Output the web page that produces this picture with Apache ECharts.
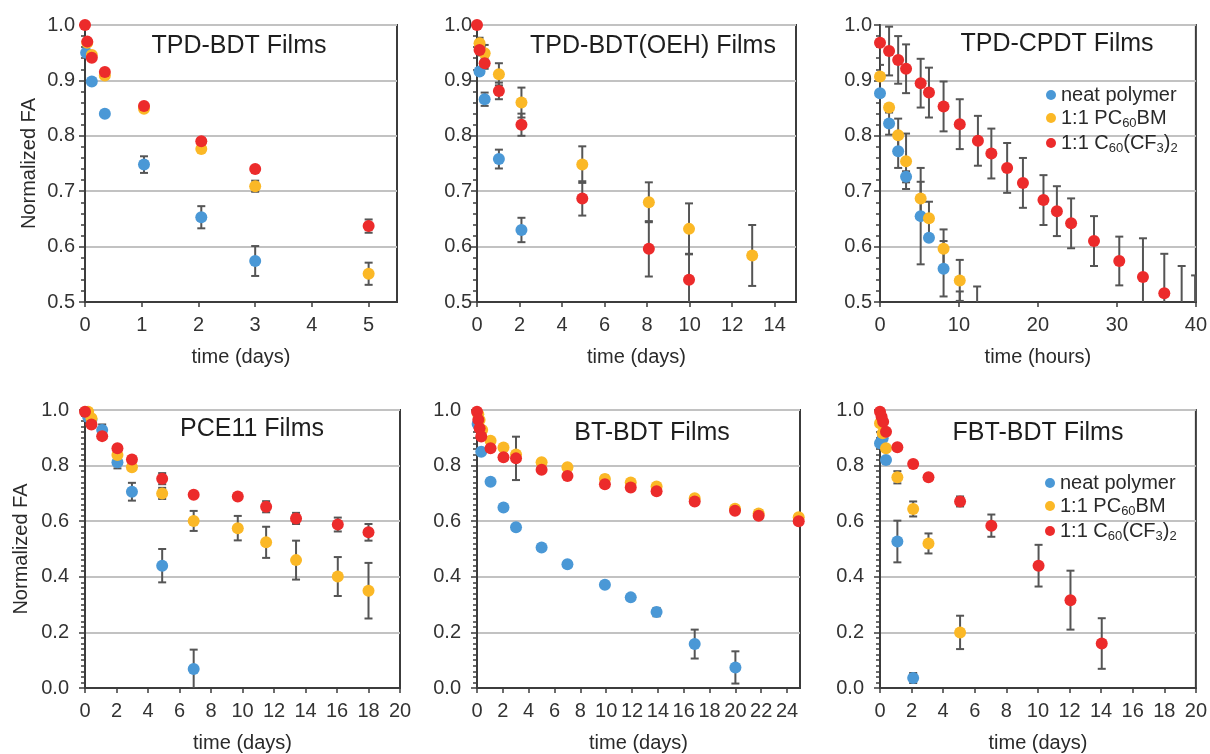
<!DOCTYPE html>
<html>
<head>
<meta charset="utf-8">
<script src="https://cdn.jsdelivr.net/npm/echarts@6/dist/echarts.min.js"></script>
<style>
html,body{margin:0;padding:0;background:#fff;}
#c{width:1210px;height:754px;}
</style>
</head>
<body>
<div id="c"></div>
<script>
// ---- data: [time, normalized FA, error] ----
var seriesNames = ['neat polymer', '1:1 PC60BM', '1:1 C60(CF3)2'];
var panelTitles = ['TPD-BDT Films', 'TPD-BDT(OEH) Films', 'TPD-CPDT Films', 'PCE11 Films', 'BT-BDT Films', 'FBT-BDT Films'];
var xAxisNames = ['time (days)', 'time (days)', 'time (hours)', 'time (days)', 'time (days)', 'time (days)'];
var yAxisName = 'Normalized FA';

var p1Neat = [[0.02,0.95,0],[0.12,0.898,0],[0.35,0.84,0],[1.04,0.748,0.015],[2.05,0.653,0.02],[3,0.574,0.027]];
var p1Pcbm = [[0.04,0.968,0],[0.12,0.946,0.005],[0.35,0.909,0],[1.04,0.849,0.005],[2.05,0.776,0.005],[3,0.709,0.01],[5,0.551,0.02]];
var p1Cf3  = [[0,1.0,0],[0.04,0.97,0],[0.12,0.941,0.005],[0.35,0.915,0.004],[1.04,0.854,0.005],[2.05,0.79,0.005],[3,0.74,0.004],[5,0.637,0.012]];

var p2Neat = [[0.12,0.916,0.005],[0.36,0.866,0.012],[1.03,0.758,0.017],[2.09,0.63,0.022]];
var p2Pcbm = [[0.12,0.967,0.01],[0.36,0.949,0.015],[1.03,0.911,0.02],[2.09,0.86,0.027],[4.95,0.748,0.033],[8.08,0.68,0.036],[9.97,0.632,0.046],[12.94,0.584,0.055]];
var p2Cf3  = [[0,1.0,0],[0.12,0.955,0.01],[0.36,0.931,0.01],[1.03,0.881,0.015],[2.09,0.82,0.02],[4.95,0.687,0.031],[8.08,0.596,0.05],[9.97,0.54,0.047]];

var p3Neat = [[0,0.877,0],[1.15,0.822,0.02],[2.3,0.772,0.03],[3.3,0.726,0.01],[5.15,0.655,0.087],[6.2,0.616,0.005],[8.05,0.56,0.05],[10.1,0.475,0.044]];
var p3Pcbm = [[0,0.907,0],[1.15,0.851,0.005],[2.3,0.801,0.03],[3.3,0.754,0.05],[5.15,0.687,0.03],[6.2,0.651,0.03],[8.05,0.596,0.035],[10.1,0.539,0.037],[12.3,0.49,0.038]];
var p3Cf3  = [[0,0.968,0.04],[1.15,0.953,0.044],[2.3,0.937,0.043],[3.3,0.921,0.044],[5.15,0.895,0.044],[6.2,0.878,0.045],[8.05,0.853,0.045],[10.1,0.821,0.045],[12.4,0.791,0.045],[14.1,0.768,0.045],[16.1,0.742,0.045],[18.1,0.715,0.045],[20.7,0.684,0.045],[22.4,0.664,0.045],[24.2,0.642,0.045],[27.1,0.61,0.045],[30.3,0.574,0.044],[33.3,0.545,0.07],[36,0.516,0.071],[38.2,0.49,0.075],[39.9,0.475,0.073]];

var p4Neat = [[0.2,0.975,0],[0.41,0.965,0],[1.09,0.928,0.02],[2.06,0.812,0.022],[2.98,0.706,0.032],[4.9,0.44,0.06],[6.9,0.068,0.07]];
var p4Pcbm = [[0.2,0.994,0],[0.41,0.97,0],[2.06,0.838,0.01],[2.98,0.794,0.01],[4.9,0.70,0.02],[6.9,0.601,0.036],[9.7,0.575,0.044],[11.5,0.524,0.056],[13.4,0.46,0.07],[16.05,0.401,0.07],[18,0.35,0.1]];
var p4Cf3  = [[0,0.994,0],[0.41,0.948,0.005],[1.09,0.906,0.005],[2.06,0.862,0.01],[2.98,0.822,0.01],[4.9,0.753,0.02],[6.9,0.695,0.01],[9.7,0.689,0.01],[11.5,0.652,0.02],[13.4,0.61,0.02],[16.05,0.588,0.025],[18,0.56,0.03]];

var p5Neat = [[0.05,0.95,0],[0.33,0.85,0],[1.05,0.742,0],[2.05,0.649,0],[3.02,0.578,0],[5,0.505,0],[7,0.445,0],[9.9,0.371,0],[11.9,0.326,0],[13.9,0.273,0.015],[16.85,0.158,0.052],[20,0.074,0.058]];
var p5Pcbm = [[0.1,0.985,0],[0.2,0.964,0],[0.4,0.928,0],[1.05,0.889,0],[2.05,0.865,0],[3.02,0.84,0],[5,0.812,0],[7,0.794,0],[9.9,0.752,0.012],[11.9,0.739,0.008],[13.9,0.725,0.008],[16.85,0.683,0.01],[19.97,0.645,0.01],[21.8,0.628,0.012],[24.9,0.614,0.01]];
var p5Cf3  = [[0,0.994,0],[0.1,0.965,0],[0.2,0.934,0],[0.33,0.905,0],[1.05,0.862,0],[2.05,0.83,0],[3.02,0.826,0.078],[5,0.785,0],[7,0.763,0],[9.9,0.733,0],[11.9,0.721,0],[13.9,0.708,0],[16.85,0.671,0.01],[19.97,0.638,0.012],[21.8,0.62,0.012],[24.9,0.6,0]];

var p6Neat = [[0,0.88,0],[0.17,0.898,0],[0.38,0.82,0],[1.1,0.527,0.075],[2.1,0.036,0.018]];
var p6Pcbm = [[0,0.952,0],[0.17,0.916,0],[0.38,0.862,0.012],[1.1,0.758,0.022],[2.1,0.644,0.027],[3.07,0.52,0.036],[5.07,0.2,0.06]];
var p6Cf3  = [[0,0.994,0],[0.1,0.976,0],[0.2,0.958,0],[0.38,0.922,0],[1.1,0.866,0],[2.1,0.806,0],[3.07,0.758,0],[5.07,0.671,0.018],[7.05,0.584,0.04],[10.04,0.44,0.075],[12.06,0.316,0.106],[14.04,0.16,0.091]];

var panelData = [
  [p1Neat, p1Pcbm, p1Cf3],
  [p2Neat, p2Pcbm, p2Cf3],
  [p3Neat, p3Pcbm, p3Cf3],
  [p4Neat, p4Pcbm, p4Cf3],
  [p5Neat, p5Pcbm, p5Cf3],
  [p6Neat, p6Pcbm, p6Cf3]
];
var xMaxes = [5.5, 15, 40, 20, 25, 20];
var xIntervals = [1, 2, 10, 2, 2, 2];
var xShowMaxLabel = [false, false, true, true, false, true];
var yMins = [0.5, 0.5, 0.5, 0, 0, 0];
var yIntervals = [0.1, 0.1, 0.1, 0.2, 0.2, 0.2];

// ---- layout & style ----
var FONT = 'Liberation Sans, Arial, sans-serif';
var colors = ['#4a98d6', '#fbb826', '#ec2b2b'];
var grids = [
  {left: 85, top: 25, width: 312, height: 277},
  {left: 477, top: 25, width: 319, height: 277},
  {left: 880, top: 25, width: 317, height: 277},
  {left: 85, top: 410, width: 315, height: 278},
  {left: 477, top: 410, width: 323, height: 278},
  {left: 880, top: 410, width: 317, height: 278}
];
var yLabelMargins = [10, 5, 8, 16, 16, 16];
var titlePos = [[239, 46], [653, 46], [1057, 44], [252, 429], [652, 433], [1038, 433]];

var option = {
  animation: false,
  backgroundColor: '#ffffff',
  grid: grids.map(function (g) {
    return Object.assign({show: true, borderColor: '#3c3c3c', borderWidth: 2, backgroundColor: 'transparent'}, g);
  }),
  xAxis: [],
  yAxis: [],
  series: [],
  legend: [],
  graphic: []
};

for (var p = 0; p < 6; p++) {
  option.xAxis.push({
    type: 'value', gridIndex: p, min: 0, max: xMaxes[p], interval: xIntervals[p],
    name: xAxisNames[p], nameLocation: 'middle', nameGap: 45,
    nameTextStyle: {fontFamily: FONT, fontSize: 20, color: '#2a2a2a'},
    axisLine: {show: true, onZero: false, lineStyle: {color: '#3c3c3c', width: 2}},
    axisTick: {show: true, inside: false, length: 5, lineStyle: {color: '#3c3c3c', width: 1.5}},
    axisLabel: {fontFamily: FONT, fontSize: 20, color: '#333', margin: 13, showMaxLabel: xShowMaxLabel[p],
      formatter: function (v) { return Math.abs(v - Math.round(v)) < 1e-9 ? String(Math.round(v)) : ''; }},
    splitLine: {show: false}
  });
  option.yAxis.push({
    type: 'value', gridIndex: p, min: yMins[p], max: 1.0, interval: yIntervals[p],
    name: (p === 0 || p === 3) ? yAxisName : '', nameLocation: 'middle', nameGap: (p === 0 ? 46 : 54),
    nameTextStyle: {fontFamily: FONT, fontSize: 20, color: '#2a2a2a'},
    axisLine: {show: true, onZero: false, lineStyle: {color: '#3c3c3c', width: 2}},
    axisTick: {show: true, inside: false, length: 6, lineStyle: {color: '#3c3c3c', width: 1.5}},
    minorTick: {show: true, splitNumber: p < 3 ? 5 : 10, length: 4, lineStyle: {color: '#3c3c3c', width: 1.5}},
    axisLabel: {fontFamily: FONT, fontSize: 20, color: '#333', margin: yLabelMargins[p],
      formatter: function (v) { return v.toFixed(1); }},
    splitLine: {show: true, lineStyle: {color: '#c2c2c2', width: 2}}
  });
  // error bars
  for (var s = 0; s < 3; s++) {
    option.series.push({
      type: 'custom', xAxisIndex: p, yAxisIndex: p, name: seriesNames[s] + ' err', clip: true, z: 2,
      silent: true, legendHoverLink: false,
      data: panelData[p][s].filter(function (d) { return d[2] > 0; }),
      encode: {x: 0, y: 1},
      renderItem: function (params, api) {
        var x = api.value(0), y = api.value(1), e = api.value(2);
        var top = api.coord([x, y + e]);
        var bot = api.coord([x, y - e]);
        var cw = 4;
        var st = {stroke: '#555555', lineWidth: 2};
        return {type: 'group', children: [
          {type: 'line', shape: {x1: top[0], y1: top[1], x2: bot[0], y2: bot[1]}, style: st},
          {type: 'line', shape: {x1: top[0] - cw, y1: top[1], x2: top[0] + cw, y2: top[1]}, style: st},
          {type: 'line', shape: {x1: bot[0] - cw, y1: bot[1], x2: bot[0] + cw, y2: bot[1]}, style: st}
        ]};
      }
    });
  }
  for (var s2 = 0; s2 < 3; s2++) {
    option.series.push({
      type: 'scatter', xAxisIndex: p, yAxisIndex: p, name: seriesNames[s2], clip: true, z: 3 + s2,
      symbol: 'circle', symbolSize: 12,
      itemStyle: {color: colors[s2], opacity: 1},
      data: panelData[p][s2].map(function (d) { return [d[0], d[1]]; })
    });
  }
  option.graphic.push({
    type: 'text', x: titlePos[p][0], y: titlePos[p][1], z: 100,
    style: {text: panelTitles[p], fontFamily: FONT, fontSize: 25, fill: '#1e1e1e', align: 'center', verticalAlign: 'middle'}
  });
}

var legendRich = {
  n: {fontFamily: FONT, fontSize: 20, lineHeight: 24, color: '#2a2a2a'},
  s: {fontFamily: FONT, fontSize: 13, lineHeight: 13, color: '#2a2a2a', verticalAlign: 'bottom'}
};
function legendFmt(name) {
  if (name === '1:1 PC60BM') return '{n|1:1 PC}{s|60}{n|BM}';
  if (name === '1:1 C60(CF3)2') return '{n|1:1 C}{s|60}{n|(CF}{s|3}{n|)}{s|2}';
  return '{n|' + name + '}';
}
[[1046, 85], [1045, 473]].forEach(function (pos) {
  option.legend.push({
    data: seriesNames, orient: 'vertical', left: pos[0], top: pos[1],
    icon: 'circle', itemWidth: 10, itemHeight: 10, itemGap: 3, padding: 0,
    formatter: legendFmt,
    textStyle: {fontFamily: FONT, fontSize: 20, color: '#2a2a2a', rich: legendRich},
    selectedMode: false
  });
});

var chart = echarts.init(document.getElementById('c'), null, {renderer: 'canvas'});
chart.setOption(option);
</script>
</body>
</html>
